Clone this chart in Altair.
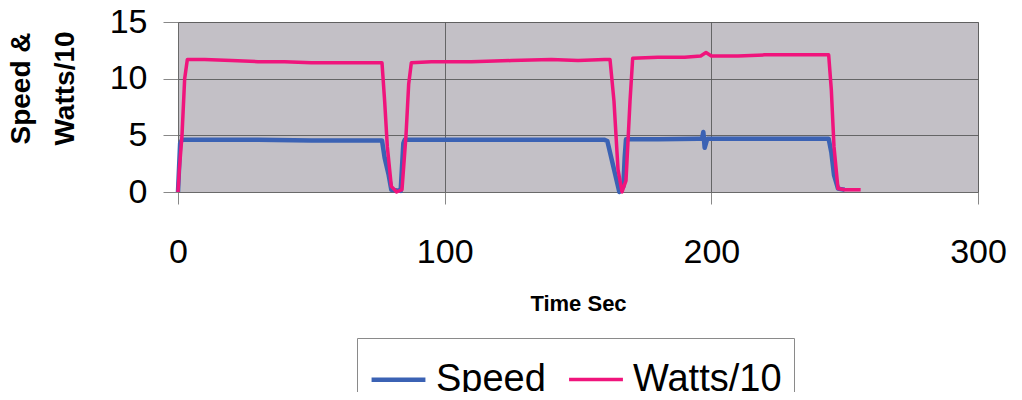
import altair as alt
import pandas as pd

# Speed series (time in seconds, value)
speed_t = [0, 0.8, 1.5, 10, 30, 50, 70, 76.5, 77.5, 79, 80, 83.5, 84.5, 85,
           100, 120, 140, 160, 161, 162.5, 164, 165.5, 167, 167.5, 168,
           180, 195, 196.5, 197, 197.5, 198.5, 210, 230, 244, 245, 246, 247.5, 250]
speed_v = [0, 4.3, 4.6, 4.6, 4.6, 4.55, 4.55, 4.55, 3.0, 1.5, 0.2, 0.1, 4.3, 4.6,
           4.6, 4.6, 4.6, 4.6, 4.5, 3.0, 1.5, 0.0, 0.5, 3.0, 4.65,
           4.65, 4.7, 4.7, 5.3, 3.9, 4.7, 4.7, 4.7, 4.7, 3.5, 1.5, 0.3, 0.2]

# Watts/10 series
watts_t = [0, 0.5, 1.5, 2.5, 3.5, 10, 20, 30, 40, 50, 60, 70, 76.5, 77.5, 78.5,
           80, 82, 84, 85.5, 86.5, 87.5, 95, 110, 125, 140, 150, 160, 162,
           163.5, 165, 166.5, 168, 169.5, 170.5, 180, 190, 196, 198, 200, 210,
           220, 230, 240, 244, 245, 246, 247.5, 250, 256]
watts_v = [0, 2, 5, 10, 11.7, 11.7, 11.6, 11.5, 11.5, 11.4, 11.4, 11.4, 11.4, 8, 4,
           0.5, 0, 0.2, 5, 9.5, 11.4, 11.5, 11.5, 11.6, 11.7, 11.6, 11.7, 11.7,
           8, 2, 0, 1, 8, 11.8, 11.9, 11.9, 12.0, 12.3, 12.0, 12.0,
           12.1, 12.1, 12.1, 12.1, 9, 4, 0.3, 0.2, 0.2]

series_names = ["Speed", "Watts/10"]
series_colors = ["#3b62b4", "#f0147c"]
x_ticks = [0, 100, 200, 300]
y_ticks = [0, 5, 10, 15]

df = pd.concat([
    pd.DataFrame({"t": speed_t, "v": speed_v, "s": series_names[0], "o": 0}),
    pd.DataFrame({"t": watts_t, "v": watts_v, "s": series_names[1], "o": 1}),
])

FONT = "Liberation Sans"

chart = alt.Chart(df).mark_line(strokeJoin="round").encode(
    x=alt.X("t:Q", scale=alt.Scale(domain=[0, 300], nice=False),
            axis=alt.Axis(values=x_ticks, title="Time Sec", format="d",
                          titleY=118, titleBaseline="alphabetic")),
    y=alt.Y("v:Q", scale=alt.Scale(domain=[0, 15], nice=False),
            axis=alt.Axis(values=y_ticks, title=["Speed &", "Watts/10"],
                          titleX=-149, titleY=66, titleAngle=-90,
                          titleAlign="center", titleBaseline="alphabetic",
                          titleLineHeight=44, titleFontSize=28,
                          labelPadding=16, tickSize=15)),
    color=alt.Color("s:N", scale=alt.Scale(domain=series_names, range=series_colors),
                    legend=alt.Legend(title=None, orient="none", legendX=179, legendY=316,
                                      direction="horizontal", strokeColor="#8a8a8a",
                                      fillColor="#ffffff", padding=12,
                                      labelFontSize=38, labelFont=FONT, labelColor="#000",
                                      symbolType="stroke", symbolSize=2900,
                                      symbolStrokeWidth=3, labelOffset=8,
                                      columnPadding=16)),
    strokeWidth=alt.StrokeWidth("s:N", scale=alt.Scale(domain=series_names, range=[4.5, 3.5]),
                                legend=None),
    order=alt.Order("o:Q"),
).properties(
    width=800, height=170,
    autosize=alt.AutoSizeParams(type="none"),
    padding={"left": 170, "top": 14, "right": 36, "bottom": 200},
    background="#ffffff",
).configure_view(
    fill="#c3c0c6", stroke="#a0a0a0", strokeWidth=1
).configure_axis(
    labelFont=FONT, titleFont=FONT, labelFontSize=34, labelColor="#000",
    titleColor="#000", titleFontWeight="bold", grid=True, gridColor="#555555",
    gridWidth=1, gridOpacity=0.85, domainColor="#6a6a6a", tickColor="#888888",
    tickSize=12
).configure_axisX(
    labelPadding=31, titleFontSize=22, labelFlush=False
).configure_axisY(
    labelBaseline="middle"
)

chart.save("out.html", embed_options={"renderer": "svg", "actions": False})
